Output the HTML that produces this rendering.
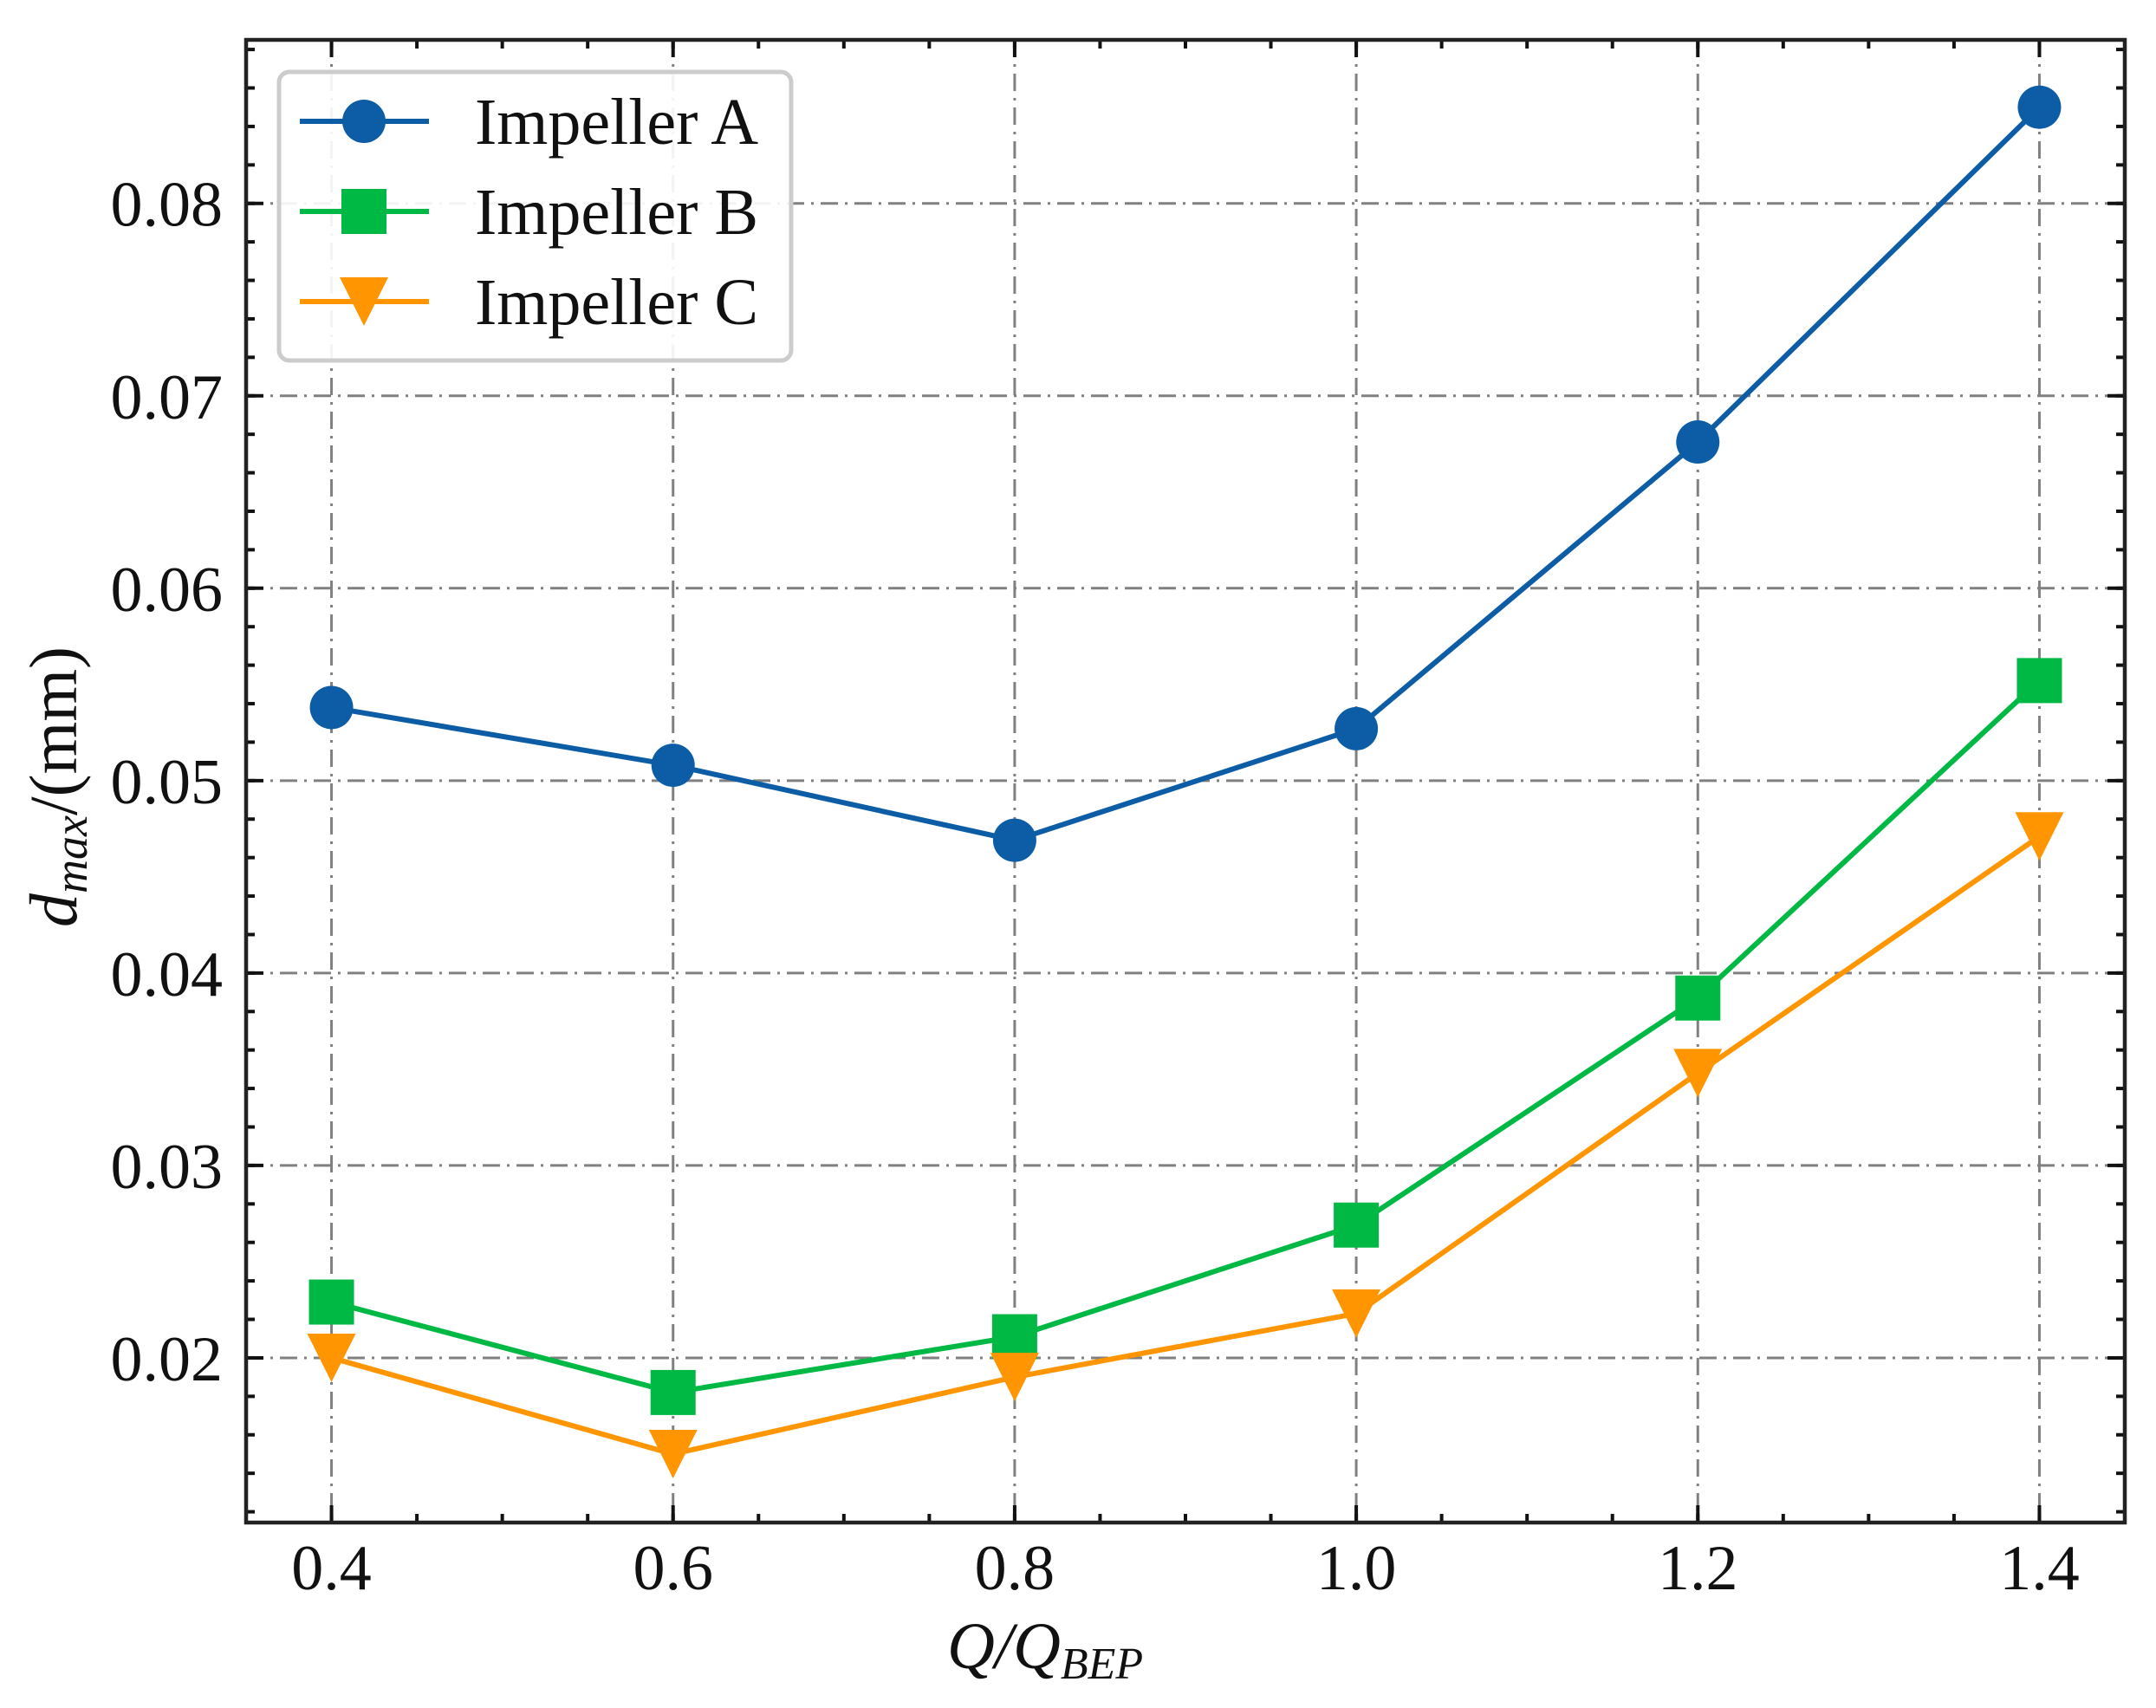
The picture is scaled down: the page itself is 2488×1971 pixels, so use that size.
<!DOCTYPE html>
<html><head><meta charset="utf-8"><style>
html,body{margin:0;padding:0;background:#fff;}
svg{display:block;}
text{font-family:"Liberation Serif",serif;fill:#111;}
</style></head><body>
<svg id="chart" width="2488" height="1971" viewBox="0 0 2488 1971" xmlns="http://www.w3.org/2000/svg">
<g id="grid"></g>
<g id="series"></g>
<g id="axes"></g>
<g id="legend"></g>
<text x="1093" y="1925" font-size="76" font-style="italic">Q/Q<tspan font-size="52" dy="12">BEP</tspan></text>
<text transform="translate(88,908) rotate(-90)" text-anchor="middle" font-size="78"><tspan font-style="italic">d</tspan><tspan font-style="italic" font-size="54" dy="12">max</tspan><tspan dy="-12">/(mm)</tspan></text>
</svg>
<script>
const categories = [0.4, 0.6, 0.8, 1.0, 1.2, 1.4];
const seriesA = [0.0538, 0.0508, 0.0469, 0.0527, 0.0676, 0.0850];
const seriesB = [0.0229, 0.0182, 0.0211, 0.0269, 0.0387, 0.0552];
const seriesC = [0.0200, 0.0150, 0.0190, 0.0223, 0.0348, 0.0471];
const xTickLabels = ["0.4", "0.6", "0.8", "1.0", "1.2", "1.4"];
const yTicks = [0.02, 0.03, 0.04, 0.05, 0.06, 0.07, 0.08];
const yTickLabels = ["0.02", "0.03", "0.04", "0.05", "0.06", "0.07", "0.08"];
const seriesNames = ["Impeller A", "Impeller B", "Impeller C"];

const NS = "http://www.w3.org/2000/svg";
const L = 284, R = 2452, T = 46, B = 1757;
const xMin = 0.35, xMax = 1.45, yMin = 0.01144, yMax = 0.0885;
function xs(v){ return L + (v - xMin) / (xMax - xMin) * (R - L); }
function ys(v){ return B - (v - yMin) / (yMax - yMin) * (B - T); }
function mk(tag, attrs, parent){
  const e = document.createElementNS(NS, tag);
  for (const k in attrs) e.setAttribute(k, attrs[k]);
  parent.appendChild(e); return e;
}
const grid = document.getElementById('grid');
const axes = document.getElementById('axes');
const series = document.getElementById('series');
const legend = document.getElementById('legend');
const gstyle = {stroke:'#808080','stroke-width':3,'stroke-dasharray':'20 8 3 8',fill:'none'};

categories.forEach((c,i)=>{
  const x = xs(c);
  const g = mk('line', Object.assign({x1:x,x2:x,y1:T,y2:B}, gstyle), grid);
  
  
  const t = mk('text', {x:x, y:1834, 'text-anchor':'middle', 'font-size':74}, axes);
  t.textContent = xTickLabels[i];
  
  
  mk('line', {x1:x,x2:x,y1:B,y2:B-20,stroke:'#111','stroke-width':4}, axes);
  mk('line', {x1:x,x2:x,y1:T,y2:T+20,stroke:'#111','stroke-width':4}, axes);
});
yTicks.forEach((v,i)=>{
  const y = ys(v);
  const g = mk('line', Object.assign({x1:L,x2:R,y1:y,y2:y}, gstyle), grid);
  
  
  const t = mk('text', {x:257, y:y+26, 'text-anchor':'end', 'font-size':74}, axes);
  t.textContent = yTickLabels[i];
  
  
  mk('line', {x1:L,x2:L+20,y1:y,y2:y,stroke:'#111','stroke-width':4}, axes);
  mk('line', {x1:R,x2:R-20,y1:y,y2:y,stroke:'#111','stroke-width':4}, axes);
});
for (let k=0;k<=22;k++){
  const v = 0.35 + k*0.05; const x = xs(v);
  if (x<=L+2||x>=R-2) continue;
  mk('line', {x1:x,x2:x,y1:B,y2:B-10,stroke:'#111','stroke-width':4}, axes);
  mk('line', {x1:x,x2:x,y1:T,y2:T+10,stroke:'#111','stroke-width':4}, axes);
}
for (let k=0;k<=40;k++){
  const v = 0.012 + k*0.002; const y = ys(v);
  if (y<=T+2||y>=B-2) continue;
  mk('line', {x1:L,x2:L+10,y1:y,y2:y,stroke:'#111','stroke-width':4}, axes);
  mk('line', {x1:R,x2:R-10,y1:y,y2:y,stroke:'#111','stroke-width':4}, axes);
}
const frame = mk('rect', {x:L,y:T,width:R-L,height:B-T,fill:'none',stroke:'#222','stroke-width':4.5}, axes);



const colors = ['#0C5DA5','#00B945','#FF9500'];
const shapes = ['circle','square','triangle'];
function marker(shape, x, y, color, parent){
  if (shape==='circle') return mk('circle', {cx:x, cy:y, r:25, fill:color}, parent);
  if (shape==='square') return mk('rect', {x:x-26, y:y-26, width:52, height:52, fill:color}, parent);
  return mk('polygon', {points:`${x-28},${y-28} ${x+28},${y-28} ${x},${y+28}`, fill:color}, parent);
}
[seriesA, seriesB, seriesC].forEach((vals, si)=>{
  const pts = vals.map((v,i)=>xs(categories[i])+','+ys(v)).join(' ');
  const pl = mk('polyline', {points:pts, fill:'none', stroke:colors[si], 'stroke-width':6}, series);
  
  
  vals.forEach((v,i)=>{
    const m = marker(shapes[si], xs(categories[i]), ys(v), colors[si], series);
    
    
  });
});

const box = mk('rect', {x:322, y:83, width:591, height:333, rx:12, fill:'#fff', 'fill-opacity':0.9, stroke:'#cccccc', 'stroke-width':5}, legend);


const ly = [140, 244, 348];
seriesNames.forEach((n, si)=>{
  const g = mk('g', {}, legend);
  
  
  mk('line', {x1:346, x2:495, y1:ly[si], y2:ly[si], stroke:colors[si], 'stroke-width':6}, g);
  marker(shapes[si], 420, ly[si], colors[si], g);
  const t = mk('text', {x:548, y:ly[si]+26, 'font-size':76}, g);
  t.textContent = n;
});
</script>
</body></html>
